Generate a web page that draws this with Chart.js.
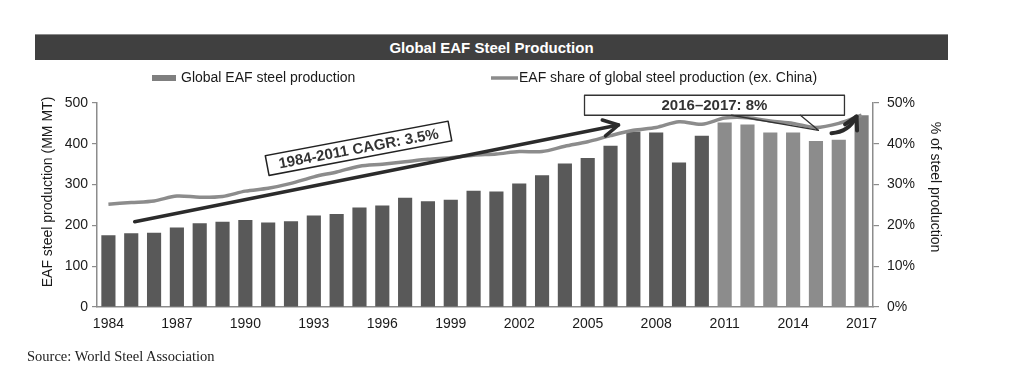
<!DOCTYPE html>
<html><head><meta charset="utf-8">
<script src="https://cdn.jsdelivr.net/npm/chart.js@4/dist/chart.umd.min.js"></script>
<style>
html,body{margin:0;padding:0;background:#fff;width:1023px;height:386px;overflow:hidden}
#wrap{position:relative;width:1023px;height:386px}
#bar{position:absolute;left:35px;top:34px;width:913px;height:26px;background:#404040;color:#fff;font:bold 15px "Liberation Sans",Arial,sans-serif;text-align:center;line-height:25px;border-top:1px solid #8a8a8a;box-sizing:border-box}
#src{position:absolute;left:27px;top:348px;font:14.5px "Liberation Serif","Times New Roman",serif;color:#222}
canvas{position:absolute;left:0;top:0}
</style></head>
<body><div id="wrap"><div id="bar">Global EAF Steel Production</div><canvas id="c" width="1023" height="386"></canvas><div id="src">Source: World Steel Association</div></div>
<script>
const years = ['1984','1985','1986','1987','1988','1989','1990','1991','1992','1993','1994','1995','1996','1997','1998','1999','2000','2001','2002','2003','2004','2005','2006','2007','2008','2009','2010','2011','2012','2013','2014','2015','2016','2017'];
const production = [176,181,182,195,205,209,213,207,210,224,228,244,249,268,259,263,285,283,303,323,352,365,395,430,428,354,420,452,447,428,428,407,410,470];
const share = [25.2,25.6,26.0,27.2,26.9,27.1,28.4,29.1,30.3,31.9,33.1,34.5,35.0,35.6,36.2,36.6,37.2,37.5,38.1,38.1,39.4,40.5,42.0,43.3,44.0,45.4,44.8,46.3,46.4,45.6,45.0,44.0,45.0,47.0];
const leftTicks = [0,100,200,300,400,500];
const rightTicks = [0,10,20,30,40,50];
const cagrLabel = '1984-2011 CAGR: 3.5%';
const recentLabel = '2016\u20132017: 8%';

const FONT = '"Liberation Sans", Arial, sans-serif';
const barColors = years.map(y => { const n = +y; return n <= 2010 ? '#595959' : (n < 2017 ? '#8c8c8c' : '#7f7f7f'); });

function chevron(ctx, x0, y0, x1, y1, len) {
  const a = Math.atan2(y1 - y0, x1 - x0);
  ctx.beginPath();
  ctx.moveTo(x1 - len * Math.cos(a - 0.5), y1 - len * Math.sin(a - 0.5));
  ctx.lineTo(x1, y1);
  ctx.lineTo(x1 - len * Math.cos(a + 0.5), y1 - len * Math.sin(a + 0.5));
  ctx.stroke();
}

const annot = {
  id: 'annot',
  afterDatasetsDraw(chart) {
    const ctx = chart.ctx, xs = chart.scales.x, ys = chart.scales.y;
    const P = (i, v) => [xs.getPixelForValue(i), ys.getPixelForValue(v)];
    ctx.save();
    ctx.lineCap = 'round'; ctx.lineJoin = 'round';
    const [ax0, ay0] = P(1.15, 209), [ax1, ay1] = P(22.35, 446);
    ctx.strokeStyle = '#2b2b2b'; ctx.lineWidth = 3.5;
    ctx.beginPath(); ctx.moveTo(ax0, ay0); ctx.lineTo(ax1, ay1); ctx.stroke();
    chevron(ctx, ax0, ay0, ax1, ay1, 17);
    const [cx, cy] = P(10.96, 389);
    const ang = Math.atan2(ay1 - ay0, ax1 - ax0) + 0.01;
    ctx.translate(cx, cy); ctx.rotate(ang);
    ctx.fillStyle = '#fff'; ctx.strokeStyle = '#222'; ctx.lineWidth = 1.5;
    ctx.fillRect(-93, -10, 186, 20); ctx.strokeRect(-93, -10, 186, 20);
    ctx.fillStyle = '#333'; ctx.font = 'bold 15px ' + FONT; ctx.textAlign = 'center'; ctx.textBaseline = 'middle';
    ctx.fillText(cagrLabel, 0, 1);
    ctx.setTransform(1, 0, 0, 1, 0, 0);
    const [bx0, by0] = P(20.86, 519), [bx1, by1] = P(32.25, 470);
    ctx.fillStyle = '#fff'; ctx.strokeStyle = '#333'; ctx.lineWidth = 1.3;
    ctx.fillRect(bx0, by0, bx1 - bx0, by1 - by0); ctx.strokeRect(bx0, by0, bx1 - bx0, by1 - by0);
    ctx.fillStyle = '#333'; ctx.font = 'bold 15px ' + FONT; ctx.textAlign = 'center'; ctx.textBaseline = 'middle';
    ctx.fillText(recentLabel, (bx0 + bx1) / 2, (by0 + by1) / 2 + 1);
    const [w0x] = P(27.3, 470), [w1x] = P(30.32, 470), [tx, ty] = P(31.11, 433);
    ctx.strokeStyle = '#333'; ctx.lineWidth = 1.3;
    ctx.beginPath(); ctx.moveTo(w0x, by1); ctx.lineTo(tx, ty); ctx.lineTo(w1x, by1); ctx.stroke();
    const [s0x, s0y] = P(31.68, 426), [c0x, c0y] = P(32.43, 428), [e0x, e0y] = P(32.78, 467);
    ctx.strokeStyle = '#2b2b2b'; ctx.lineWidth = 4;
    ctx.beginPath(); ctx.moveTo(s0x, s0y); ctx.quadraticCurveTo(c0x, c0y, e0x, e0y); ctx.stroke();
    chevron(ctx, c0x, c0y, e0x, e0y, 14);
    ctx.restore();
  }
};

const extras = {
  id: 'extras',
  afterDraw(chart) {
    const ctx = chart.ctx, ds = chart.data.datasets, ca = chart.chartArea;
    ctx.save();
    ctx.font = '14px ' + FONT; ctx.textBaseline = 'middle'; ctx.textAlign = 'left';
    ctx.fillStyle = '#7f7f7f'; ctx.fillRect(152, 75, 24, 6);
    ctx.fillStyle = '#1a1a1a'; ctx.fillText(ds[0].label, 181, 78);
    ctx.strokeStyle = '#8c8c8c'; ctx.lineWidth = 3.5;
    ctx.beginPath(); ctx.moveTo(491, 78); ctx.lineTo(518, 78); ctx.stroke();
    ctx.fillText(ds[1].label, 519, 78);
    ctx.textAlign = 'center';
    ctx.translate(48, ca.top + 89); ctx.rotate(-Math.PI / 2);
    ctx.fillText('EAF steel production (MM MT)', 0, 0);
    ctx.setTransform(1, 0, 0, 1, 0, 0);
    ctx.translate(935, ca.top + 84); ctx.rotate(Math.PI / 2);
    ctx.fillText('% of steel production', 0, 0);
    ctx.restore();
  }
};

new Chart(document.getElementById('c'), {
  type: 'bar',
  data: {
    labels: years,
    datasets: [
      { label: 'Global EAF steel production', data: production, backgroundColor: barColors, yAxisID: 'y', order: 2, categoryPercentage: 1, barPercentage: 0.62 },
      { type: 'line', label: 'EAF share of global steel production (ex. China)', data: share, yAxisID: 'y1', borderColor: '#8c8c8c', borderWidth: 3.5, pointRadius: 0, tension: 0.3, fill: false, order: 1 }
    ]
  },
  options: {
    responsive: false, animation: false,
    layout: { padding: { left: 35, right: 76, top: 103, bottom: 53 } },
    plugins: { legend: { display: false }, tooltip: { enabled: false }, title: { display: false } },
    scales: {
      x: {
        offset: true,
        grid: { display: false, drawTicks: false },
        border: { display: true, color: '#8c8c8c', width: 1.5 },
        ticks: { autoSkip: false, maxRotation: 0, padding: 9, color: '#1a1a1a', font: { family: FONT, size: 14 },
          callback: (v, i) => (i % 3 === 0 ? years[i] : '') },
        afterFit: s => { s.height = 26; }
      },
      y: {
        position: 'left', min: 0, max: 500,
        afterBuildTicks: s => { s.ticks = leftTicks.map(v => ({ value: v })); },
        grid: { drawOnChartArea: false, drawTicks: true, tickLength: 5, color: '#8c8c8c', lineWidth: 1.2 },
        border: { display: true, color: '#8c8c8c', width: 1.5 },
        ticks: { padding: 4, color: '#1a1a1a', font: { family: FONT, size: 14 } },
        afterFit: s => { s.width = 62; }
      },
      y1: {
        position: 'right', min: 0, max: 50,
        afterBuildTicks: s => { s.ticks = rightTicks.map(v => ({ value: v })); },
        grid: { drawOnChartArea: false, drawTicks: true, tickLength: 6, color: '#8c8c8c', lineWidth: 1.2 },
        border: { display: true, color: '#8c8c8c', width: 1.5 },
        ticks: { padding: 8, color: '#1a1a1a', font: { family: FONT, size: 14 }, callback: v => v + '%' },
        afterFit: s => { s.width = 74; }
      }
    }
  },
  plugins: [annot, extras]
});
</script>
</body></html>
